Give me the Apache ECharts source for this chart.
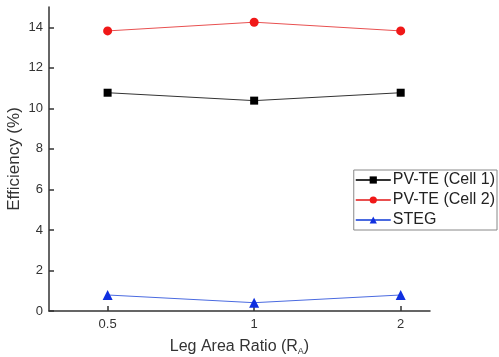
<!DOCTYPE html>
<html><head><meta charset="utf-8">
<script src="https://cdn.jsdelivr.net/npm/echarts@6/dist/echarts.min.js"></script>
<style>html,body{margin:0;padding:0;background:#fff}#c{width:499px;height:357px}</style>
</head><body><div id="c"></div>
<script>
var categories = ['0.5', '1', '2'];
var cell1 = [10.77, 10.38, 10.77];
var cell2 = [13.82, 14.25, 13.82];
var steg = [0.79, 0.41, 0.79];
var yTicks = [0, 2, 4, 6, 8, 10, 12, 14];

function pts(arr){ return arr.map(function(v,i){ return [i, v]; }); }
var chart = echarts.init(document.getElementById('c'));
var font = 'Liberation Sans, Arial, sans-serif';
chart.setOption({
  animation: false,
  grid: {left: 49, right: 69, top: 7, bottom: 46, containLabel: false, outerBoundsMode: 'none'},
  xAxis: {
    type: 'value', min: -0.4, max: 2.2,
    name: '{a|Leg Area Ratio (R}{s|A}{a|)}',
    nameLocation: 'middle', nameGap: 27,
    nameTextStyle: {rich: {a: {fontSize: 16, color: '#333', fontFamily: font}, s: {fontSize: 9, color: '#333', fontFamily: font, verticalAlign: 'bottom', padding: [9,0,0,0]}}},
    axisLine: {onZero: false, lineStyle: {color: '#333', width: 1.5}},
    axisTick: {show: true, inside: true, length: 5, customValues: [0,1,2], lineStyle: {color: '#333', width: 1.5}},
    axisLabel: {customValues: [0,1,2], formatter: function(v){ return categories[Math.round(v)]; }, color: '#333', fontSize: 13, fontFamily: font, margin: 7},
    splitLine: {show: false}
  },
  yAxis: {
    type: 'value', min: 0, max: 15, interval: 2,
    name: 'Efficiency (%)', nameLocation: 'middle', nameGap: 26, nameMoveOverlap: false,
    nameTextStyle: {fontSize: 17, color: '#333', fontFamily: font},
    axisLine: {show: true, onZero: false, lineStyle: {color: '#333', width: 1.5}},
    axisTick: {show: true, inside: true, length: 5, customValues: yTicks, lineStyle: {color: '#333', width: 1.5}},
    axisLabel: {customValues: yTicks, color: '#333', fontSize: 13, fontFamily: font, margin: 6},
    splitLine: {show: false}
  },
  legend: {
    orient: 'vertical', right: 2, top: 170,
    backgroundColor: '#fff', borderColor: '#888', borderWidth: 1, borderRadius: 0,
    padding: [2, 2, 2, 1], itemGap: 4, itemWidth: 35, itemHeight: 9,
    textStyle: {fontSize: 16, color: '#222', fontFamily: font, padding: [0,0,0,-3]},
    data: ['PV-TE (Cell 1)', 'PV-TE (Cell 2)', 'STEG']
  },
  series: [
    {name: 'PV-TE (Cell 1)', type: 'line', data: pts(cell1), symbol: 'rect', symbolSize: 8,
     itemStyle: {color: '#000'}, lineStyle: {color: '#333', width: 1}},
    {name: 'PV-TE (Cell 2)', type: 'line', data: pts(cell2), symbol: 'circle', symbolSize: 9,
     itemStyle: {color: '#f01818'}, lineStyle: {color: '#e85050', width: 1}},
    {name: 'STEG', type: 'line', data: pts(steg), symbol: 'triangle', symbolSize: 10,
     itemStyle: {color: '#1030e0'}, lineStyle: {color: '#4a6ae0', width: 1}}
  ]
});
</script></body></html>
